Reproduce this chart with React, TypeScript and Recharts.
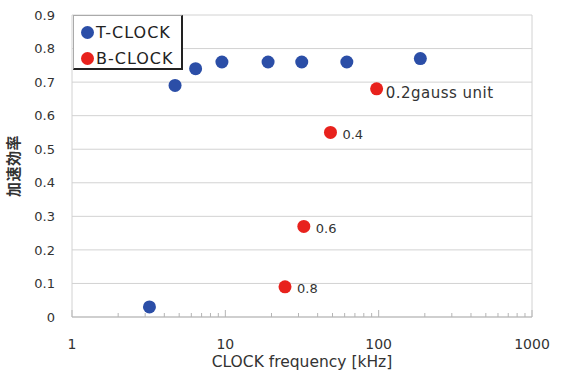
import React from 'react';
import { ScatterChart, Scatter, XAxis, YAxis, CartesianGrid, Legend, LabelList } from 'recharts';

const tClockFreq = [3.2, 4.7, 6.4, 9.5, 19, 31.5, 62, 187];
const tClockEff = [0.03, 0.69, 0.74, 0.76, 0.76, 0.76, 0.76, 0.77];
const bClockFreq = [97, 48.5, 32.5, 24.5];
const bClockEff = [0.68, 0.55, 0.27, 0.09];
const bClockLabels = ['0.2gauss unit', '0.4', '0.6', '0.8'];
const seriesNames = ['T-CLOCK', 'B-CLOCK'];
const xMajorTicks = [1, 10, 100, 1000];
const xMinorMultipliers = [2, 3, 4, 5, 6, 7, 8, 9];
const yTicks = [0, 0.1, 0.2, 0.3, 0.4, 0.5, 0.6, 0.7, 0.8, 0.9];

const BLUE = '#2b4ea7';
const RED = '#e8221d';
const FONT = 'DejaVu Sans';

const xAllTicks: number[] = [];
xMajorTicks.forEach((m, i) => {
  xAllTicks.push(m);
  if (i < xMajorTicks.length - 1) xMinorMultipliers.forEach((k) => xAllTicks.push(m * k));
});

const tData = tClockFreq.map((f, i) => ({ freq: f, eff: tClockEff[i] }));
const bData = bClockFreq.map((f, i) => ({ freq: f, eff: bClockEff[i], label: bClockLabels[i] }));

const XTick = (props: any) => {
  const { x, y, payload } = props;
  const v = payload.value;
  const major = xMajorTicks.includes(v);
  return (
    <g>
      <line x1={x} x2={x} y1={y} y2={y - (major ? 7 : 4)} stroke="#b5b5b5" strokeWidth={1} />
      {major && (
        <text x={x} y={y + 32} textAnchor="middle" fontSize={14} fill="#333" fontFamily={FONT}>
          {v}
        </text>
      )}
    </g>
  );
};

const XLabel = (p: any) => {
  const vb = p.viewBox;
  return (
    <text x={vb.x + vb.width / 2} y={vb.y + 50} textAnchor="middle" fontSize={15.5} fill="#333" fontFamily={FONT}>
      CLOCK frequency [kHz]
    </text>
  );
};

const LegendBox = (props: any) => {
  const payload = [...(props.payload || [])].sort(
    (a: any, b: any) => seriesNames.indexOf(a.value) - seriesNames.indexOf(b.value)
  );
  return (
    <div
      style={{
        background: '#fff',
        borderTop: '1px solid #aaa',
        borderLeft: '1px solid #aaa',
        borderRight: '2px solid #222',
        borderBottom: '2px solid #222',
        width: 110,
        height: 55,
        boxSizing: 'border-box',
        paddingTop: 3,
      }}
    >
      {payload.map((entry: any, i: number) => (
        <div key={i} style={{ display: 'flex', alignItems: 'center', height: 26 }}>
          <span
            style={{
              display: 'inline-block',
              width: 13,
              height: 13,
              borderRadius: '50%',
              background: entry.color,
              marginLeft: 7,
              marginRight: 2,
            }}
          />
          <span style={{ fontFamily: FONT, fontSize: 16, letterSpacing: 1, color: '#222' }}>{entry.value}</span>
        </div>
      ))}
    </div>
  );
};

const Dot = (p: any) => <circle cx={p.cx} cy={p.cy} r={6.5} fill={p.fill} />;

const PointLabel = (p: any) => {
  const vb = p.viewBox && p.viewBox.width !== undefined ? p.viewBox : p;
  const cx = vb.x + vb.width / 2;
  const cy = vb.y + vb.height / 2;
  const big = p.index === 0;
  return (
    <text
      x={cx + (big ? 9 : 12)}
      y={cy + (big ? 5 : 3)}
      dominantBaseline="middle"
      fontSize={big ? 15 : 13}
      letterSpacing={big ? 0.5 : 0}
      fill="#333"
      fontFamily={FONT}
    >
      {p.value}
    </text>
  );
};

const YLabel = (p: any) => {
  const vb = p.viewBox;
  const x = 15;
  const y = vb.y + vb.height / 2;
  return (
    <text
      x={x}
      y={y}
      transform={`rotate(-90, ${x}, ${y})`}
      textAnchor="middle"
      dominantBaseline="middle"
      fontSize={15}
      fill="#333"
      fontFamily="Noto Sans CJK JP"
      fontWeight={700}
      letterSpacing={0.5}
    >
      加速効率
    </text>
  );
};

export default function App() {
  return (
    <div style={{ position: 'absolute', left: 0, top: 0, width: 563, height: 372, background: '#fff', fontFamily: FONT }}>
      <ScatterChart width={563} height={372} margin={{ top: 15, right: 31, bottom: 0, left: 0 }}>
        <CartesianGrid
          stroke="#d2d2d2"
          verticalCoordinatesGenerator={({ offset }: any) => [offset.left, offset.left + offset.width]}
        />
        <XAxis
          type="number"
          dataKey="freq"
          scale="log"
          domain={[1, 1000]}
          allowDataOverflow
          ticks={xAllTicks}
          interval={0}
          tick={<XTick />}
          tickLine={false}
          tickSize={0}
          tickMargin={0}
          height={55}
          axisLine={{ stroke: '#b5b5b5' }}
          label={<XLabel />}
        />
        <YAxis
          type="number"
          dataKey="eff"
          domain={[0, 0.9]}
          ticks={yTicks}
          interval={0}
          width={72}
          axisLine={false}
          tickLine={false}
          tickSize={0}
          tickMargin={17}
          tick={{ fontSize: 13, fill: '#333', fontFamily: FONT }}
          tickFormatter={(v: number) => (v === 0 ? '0' : v.toFixed(1))}
          label={<YLabel />}
        />
        <Legend
          layout="vertical"
          align="center"
          verticalAlign="middle"
          wrapperStyle={{ left: 73, top: 15, width: 110 }}
          content={<LegendBox />}
        />
        <Scatter name={seriesNames[0]} data={tData} fill={BLUE} shape={<Dot />} isAnimationActive={false} />
        <Scatter name={seriesNames[1]} data={bData} fill={RED} shape={<Dot />} isAnimationActive={false}>
          <LabelList dataKey="label" content={<PointLabel />} />
        </Scatter>
      </ScatterChart>
    </div>
  );
}
